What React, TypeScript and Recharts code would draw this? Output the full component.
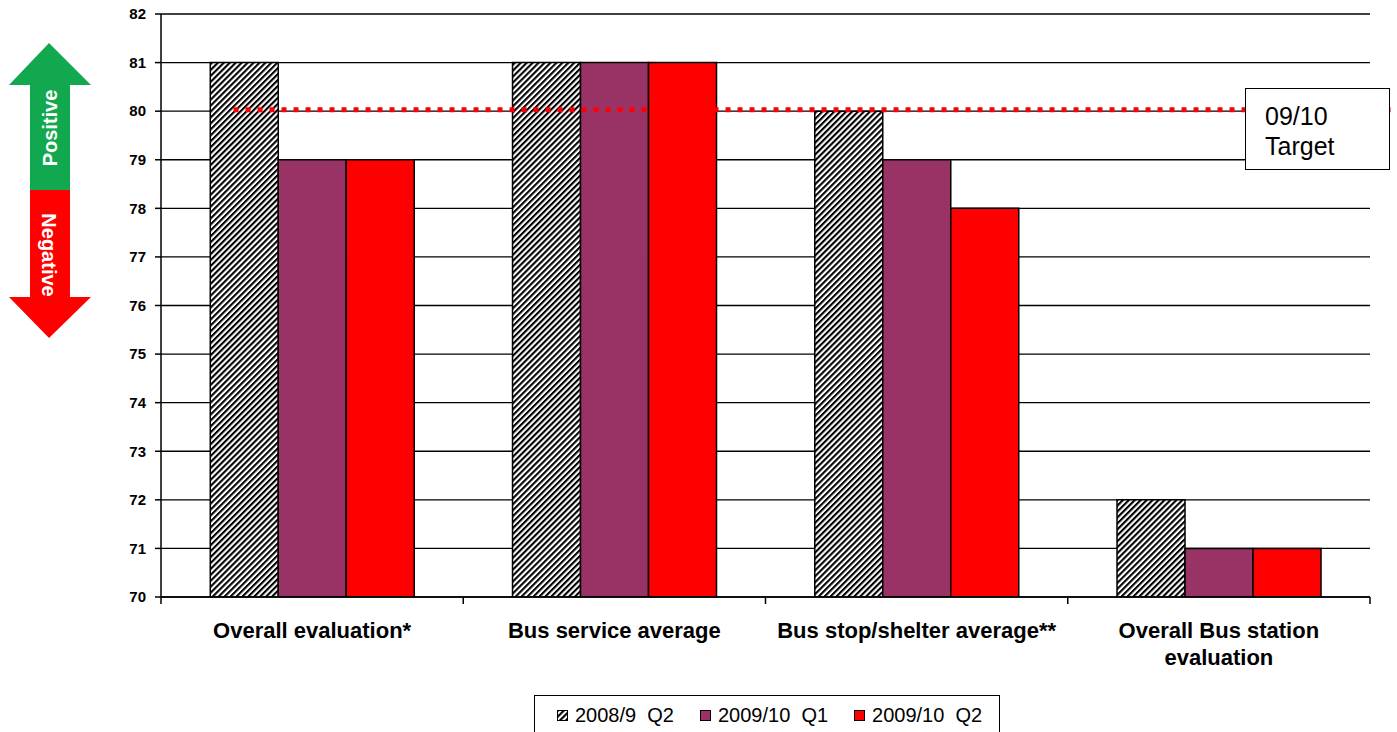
import React from 'react';
import {
  BarChart, Bar, XAxis, YAxis, CartesianGrid, ReferenceLine, Legend,
} from 'recharts';

const categories = [
  'Overall evaluation*',
  'Bus service average',
  'Bus stop/shelter average**',
  'Overall Bus station evaluation',
];
const series2008Q2 = [81, 81, 80, 72];
const series2009Q1 = [79, 81, 79, 71];
const series2009Q2 = [79, 81, 78, 71];
const seriesNames = ['2008/9  Q2', '2009/10  Q1', '2009/10  Q2'];
const seriesColors = ['url(#hatch)', '#993366', '#FF0000'];
const yTicks = [70, 71, 72, 73, 74, 75, 76, 77, 78, 79, 80, 81, 82];
const targetValue = 80.03;
const targetStart = 0.18;
const targetEnd = 3.565;
const targetLabel = ['09/10', 'Target'];

const data = categories.map((c, i) => ({
  name: c,
  s0: series2008Q2[i],
  s1: series2009Q1[i],
  s2: series2009Q2[i],
}));

const FONT = 'Arial, "Liberation Sans", sans-serif';

function wrapLabel(s: string): string[] {
  if (s.length <= 28) return [s];
  const cut = s.lastIndexOf(' ', 20);
  return [s.slice(0, cut), s.slice(cut + 1)];
}

const XTick = (props: any) => {
  const { x, y, payload, index } = props;
  const off = payload && typeof payload.offset === 'number' && payload.offset > 0 ? payload.offset : 151;
  const lines = wrapLabel(String(payload.value));
  return (
    <g>
      <line x1={x - off} x2={x - off} y1={y} y2={y + 7} stroke="#000" strokeWidth={1.5} />
      {index === categories.length - 1 && (
        <line x1={x + off} x2={x + off} y1={y} y2={y + 7} stroke="#000" strokeWidth={1.5} />
      )}
      <text
        x={x}
        y={y + 41}
        textAnchor="middle"
        fill="#000"
        fontSize={22}
        fontWeight="bold"
        fontFamily={FONT}
      >
        {lines.map((l, i) => (
          <tspan key={i} x={x} dy={i === 0 ? 0 : 27}>
            {l}
          </tspan>
        ))}
      </text>
    </g>
  );
};

const LegendContent = () => (
  <div
    style={{
      border: '1.5px solid #000',
      background: '#fff',
      height: 40,
      boxSizing: 'border-box',
      display: 'flex',
      alignItems: 'center',
      paddingLeft: 22,
      fontFamily: FONT,
      fontSize: 20,
      color: '#000',
    }}
  >
    {seriesNames.map((n, i) => (
      <div key={n} style={{ display: 'flex', alignItems: 'center', marginRight: 26 }}>
        <svg width={11} height={11} style={{ marginRight: 7 }}>
          <rect x={0.5} y={0.5} width={10} height={10} fill={seriesColors[i]} stroke="#000" strokeWidth={1} />
        </svg>
        <span style={{ whiteSpace: 'pre' }}>{n}</span>
      </div>
    ))}
  </div>
);

const Arrow = () => (
  <svg width={100} height={345} style={{ position: 'absolute', left: 0, top: 0 }}>
    <polygon points="49,43 91,85 70,85 70,190 30,190 30,85 9,85" fill="#12A84F" />
    <polygon points="30,190 70,190 70,297 91,297 49,338 9,297 30,297" fill="#FF0000" />
    <text
      x={0}
      y={0}
      transform="translate(57,128) rotate(-90)"
      textAnchor="middle"
      fill="#fff"
      fontFamily={FONT}
      fontWeight="bold"
      fontSize={20}
    >
      Positive
    </text>
    <text
      x={0}
      y={0}
      transform="translate(42,255) rotate(90)"
      textAnchor="middle"
      fill="#fff"
      fontFamily={FONT}
      fontWeight="bold"
      fontSize={20}
    >
      Negative
    </text>
  </svg>
);

export default function App() {
  return (
    <div style={{ position: 'absolute', left: 0, top: 0, width: 1397, height: 732, background: '#fff' }}>
      <Arrow />
      <BarChart
        width={1397}
        height={732}
        data={data}
        margin={{ top: 14, right: 27, left: 101, bottom: 75 }}
        barCategoryGap="16.3%"
        barGap={0}
      >
        <defs>
          <pattern id="hatch" patternUnits="userSpaceOnUse" width={4.2} height={4.2} patternTransform="rotate(45)">
            <rect x={0} y={0} width={4.2} height={4.2} fill="#fff" />
            <line x1={1} y1={0} x2={1} y2={4.2} stroke="#000" strokeWidth={2.2} />
          </pattern>
        </defs>
        <CartesianGrid vertical={false} stroke="#000" strokeWidth={1.3} />
        <XAxis
          dataKey="name"
          xAxisId={0}
          tickLine={false}
          tickSize={0}
          tickMargin={0}
          axisLine={{ stroke: '#000', strokeWidth: 1.5 }}
          tick={<XTick />}
          height={60}
          interval={0}
        />
        <XAxis xAxisId="t" type="number" domain={[0, 4]} allowDataOverflow hide />
        <YAxis
          domain={[70, 82]}
          ticks={yTicks}
          interval={0}
          width={60}
          tickSize={6}
          tickMargin={9}
          tickLine={{ stroke: '#000', strokeWidth: 1.5 }}
          axisLine={{ stroke: '#000', strokeWidth: 1.5 }}
          tick={{ fill: '#000', fontSize: 15, fontWeight: 'bold', fontFamily: FONT }}
          allowDataOverflow
        />
        <Bar dataKey="s0" name={seriesNames[0]} fill={seriesColors[0]} stroke="#000" strokeWidth={1.5} isAnimationActive={false} />
        <Bar dataKey="s1" name={seriesNames[1]} fill={seriesColors[1]} stroke="#000" strokeWidth={1.5} isAnimationActive={false} />
        <Bar dataKey="s2" name={seriesNames[2]} fill={seriesColors[2]} stroke="#000" strokeWidth={1.5} isAnimationActive={false} />
        <ReferenceLine
          xAxisId="t"
          segment={[{ x: targetStart, y: targetValue }, { x: targetEnd, y: targetValue }]}
          stroke="#FF0000"
          strokeWidth={5}
          strokeDasharray="5 7"
          ifOverflow="visible"
        />
        <Legend
          layout="horizontal"
          align="center"
          verticalAlign="middle"
          content={<LegendContent />}
          wrapperStyle={{ left: 534, top: 695, width: 466, height: 40 }}
        />
      </BarChart>
      <div
        style={{
          position: 'absolute',
          left: 1245,
          top: 88,
          width: 145,
          height: 82,
          boxSizing: 'border-box',
          border: '1.5px solid #000',
          background: '#fff',
          fontFamily: FONT,
          fontSize: 25,
          lineHeight: '30px',
          paddingLeft: 19,
          paddingTop: 12,
          color: '#000',
        }}
      >
        {targetLabel.map((t) => (
          <div key={t}>{t}</div>
        ))}
      </div>
    </div>
  );
}
